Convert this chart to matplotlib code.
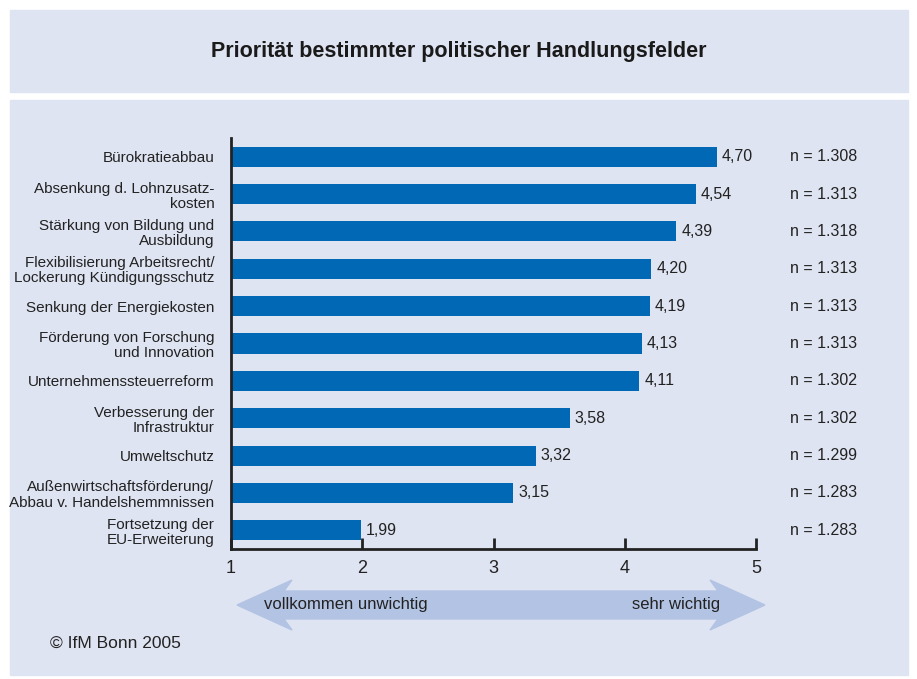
import matplotlib
matplotlib.use("Agg")
import matplotlib.pyplot as plt
from matplotlib.patches import Rectangle, Polygon

plt.rcParams['font.family'] = ['Liberation Sans Narrow', 'Liberation Sans', 'DejaVu Sans']

labels = ["Bürokratieabbau",
          "Absenkung d. Lohnzusatz-\nkosten",
          "Stärkung von Bildung und\nAusbildung",
          "Flexibilisierung Arbeitsrecht/\nLockerung Kündigungsschutz",
          "Senkung der Energiekosten",
          "Förderung von Forschung\nund Innovation",
          "Unternehmenssteuerreform",
          "Verbesserung der\nInfrastruktur",
          "Umweltschutz",
          "Außenwirtschaftsförderung/\nAbbau v. Handelshemmnissen",
          "Fortsetzung der\nEU-Erweiterung"]
values = [4.70, 4.54, 4.39, 4.20, 4.19, 4.13, 4.11, 3.58, 3.32, 3.15, 1.99]
n_text = ["1.308", "1.313", "1.318", "1.313", "1.313", "1.313",
          "1.302", "1.302", "1.299", "1.283", "1.283"]
ticks = [1, 2, 3, 4, 5]

W, H = 917, 679
bg = "#dfe4f2"
fig = plt.figure(figsize=(W / 100, H / 100), dpi=100)
fig.patch.set_facecolor("white")

def fx(px): return px / W
def fy(py): return 1 - py / H

fig.add_artist(Rectangle((fx(10), fy(92)), fx(908) - fx(10), fy(10) - fy(92),
                         transform=fig.transFigure, color=bg, zorder=0))
fig.add_artist(Rectangle((fx(10), fy(675)), fx(908) - fx(10), fy(100) - fy(675),
                         transform=fig.transFigure, color=bg, zorder=0))
fig.text(0.5, fy(51), "Priorität bestimmter politischer Handlungsfelder",
         ha="center", va="center", fontsize=15.5, fontweight="bold", color="#1a1a1a")

ax = fig.add_axes([fx(231), fy(549), fx(756) - fx(231), fy(138) - fy(549)])
ax.set_facecolor("none")
y = list(range(len(values)))
ax.barh(y, [v - 1 for v in values], left=1, height=0.54, color="#0068b4")
ax.set_xlim(1, 5)
ax.set_ylim(10.5, -0.5)
for s in ["top", "right"]:
    ax.spines[s].set_visible(False)
ax.spines["left"].set_linewidth(2)
ax.spines["bottom"].set_linewidth(2)
ax.spines["left"].set_color("#222222")
ax.spines["bottom"].set_color("#222222")
ax.set_yticks(y)
ax.set_yticklabels(labels, fontsize=11, color="#222222", linespacing=1.1)
ax.tick_params(axis="y", length=0, pad=12)
ax.set_xticks(ticks)
ax.set_xticklabels([str(t) for t in ticks], fontsize=13, color="#222222")
ax.tick_params(axis="x", direction="in", length=8, width=2, color="#222222", pad=8)

for i, v in enumerate(values):
    ax.text(v + 0.04, i, f"{v:.2f}".replace(".", ","), va="center", ha="left",
            fontsize=11.5, color="#222222")
    ax.text(5.26, i, "n = " + n_text[i], va="center", ha="left",
            fontsize=11.5, color="#222222", clip_on=False)

# double-headed arrow
xl, xr, yc = 237, 765, 605
sh, hh, hl = 14, 25, 55
pts = [(xl, yc), (xl + hl, yc - hh), (xl + hl - 8, yc - sh), (xr - hl + 8, yc - sh),
       (xr - hl, yc - hh), (xr, yc), (xr - hl, yc + hh), (xr - hl + 8, yc + sh),
       (xl + hl - 8, yc + sh), (xl + hl, yc + hh)]
fig.add_artist(Polygon([(fx(a), fy(b)) for a, b in pts], closed=True,
                       transform=fig.transFigure, color="#b3c3e3", zorder=1))
fig.text(fx(264), fy(605), "vollkommen unwichtig", ha="left", va="center",
         fontsize=12, color="#222222")
fig.text(fx(720), fy(605), "sehr wichtig", ha="right", va="center",
         fontsize=12, color="#222222")
fig.text(fx(50), fy(643), "© IfM Bonn 2005", ha="left", va="center",
         fontsize=12.5, color="#222222")

fig.savefig("out.png", dpi=100, facecolor=fig.get_facecolor())
